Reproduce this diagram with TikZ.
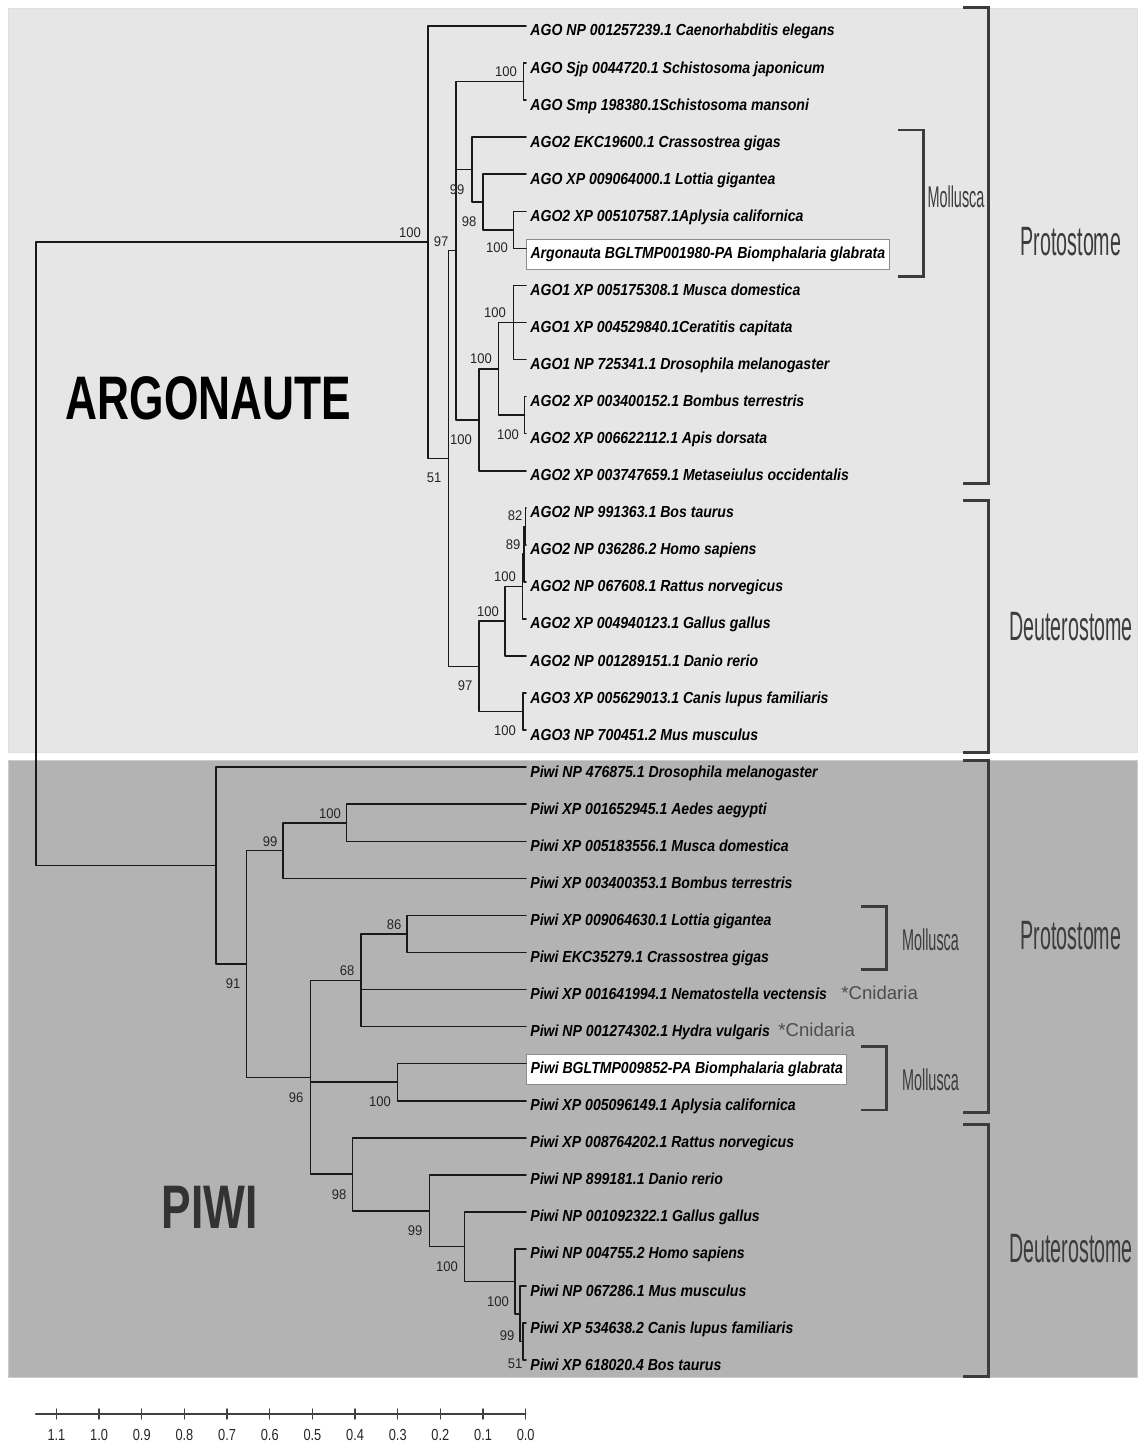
\documentclass[tikz,border=0pt]{standalone}
\usepackage{fontspec}
\setmainfont{Liberation Sans}
\newfontfamily\leaffont[FakeStretch=0.88]{Liberation Sans}
\newfontfamily\bsfont[FakeStretch=0.93]{Liberation Sans}
\newfontfamily\narrowfont[FakeStretch=0.48]{Liberation Sans}
\newfontfamily\cladefont[FakeStretch=0.72]{Liberation Sans}
\newfontfamily\axisfont[FakeStretch=0.8]{Liberation Sans}
\definecolor{lightpanel}{HTML}{E6E6E6}
\definecolor{darkpanel}{HTML}{B3B3B3}
\definecolor{ink}{HTML}{3C3C3C}
\begin{document}
\begin{tikzpicture}[x=0.5pt, y=-0.5pt, line join=round, line cap=round,
	branch/.style={line width=0.8pt, draw=black!90},
	leaf/.style={anchor=base west, yshift=-5pt, inner xsep=2pt, inner ysep=0pt, font=\leaffont\fontsize{8}{9}\selectfont\bfseries\itshape},
	boxleaf/.style={leaf, inner ysep=3.7pt, draw=black!45, fill=white, line width=0.5pt},
	boot/.style={inner sep=0pt, text=black!85, font=\bsfont\fontsize{7}{8}\selectfont},
	brk/.style={line width=1.35pt, draw=ink, line cap=butt, line join=miter},
	grp/.style={inner sep=0pt, text=ink, font=\narrowfont\fontsize{20.5}{22}\selectfont},
	molgrp/.style={grp, font=\narrowfont\fontsize{15}{16}\selectfont},
	cnid/.style={anchor=west, inner sep=0pt, text=black!70, font=\fontsize{9.3}{10}\selectfont},
	clade/.style={inner sep=0pt, font=\cladefont\fontsize{30.75}{32}\selectfont\bfseries},
	axisline/.style={line width=0.7pt, draw=black!75},
	axislabel/.style={inner sep=0pt, text=black!85, font=\axisfont\fontsize{8}{9}\selectfont}]
	\useasboundingbox (0,0) rectangle (1137,1445);
	\def\ry#1{26+37.06*(#1)} % row -> y
	\def\tip{526}
	% panels
	\fill[lightpanel, draw=black!12] (8.3,8.3) rectangle (1137,752.7);
	\fill[darkpanel, draw=black!20] (8.3,760.7) rectangle (1137,1377.7);
	% leaves
	\foreach \i/\s/\t in {
		0/leaf/{AGO NP 001257239.1 Caenorhabditis elegans},
		1/leaf/{AGO Sjp 0044720.1 Schistosoma japonicum},
		2/leaf/{AGO Smp 198380.1Schistosoma mansoni},
		3/leaf/{AGO2 EKC19600.1 Crassostrea gigas},
		4/leaf/{AGO XP 009064000.1 Lottia gigantea},
		5/leaf/{AGO2 XP 005107587.1Aplysia californica},
		6/boxleaf/{Argonauta BGLTMP001980-PA Biomphalaria glabrata},
		7/leaf/{AGO1 XP 005175308.1 Musca domestica},
		8/leaf/{AGO1 XP 004529840.1Ceratitis capitata},
		9/leaf/{AGO1 NP 725341.1 Drosophila melanogaster},
		10/leaf/{AGO2 XP 003400152.1 Bombus terrestris},
		11/leaf/{AGO2 XP 006622112.1 Apis dorsata},
		12/leaf/{AGO2 XP 003747659.1 Metaseiulus occidentalis},
		13/leaf/{AGO2 NP 991363.1 Bos taurus},
		14/leaf/{AGO2 NP 036286.2 Homo sapiens},
		15/leaf/{AGO2 NP 067608.1 Rattus norvegicus},
		16/leaf/{AGO2 XP 004940123.1 Gallus gallus},
		17/leaf/{AGO2 NP 001289151.1 Danio rerio},
		18/leaf/{AGO3 XP 005629013.1 Canis lupus familiaris},
		19/leaf/{AGO3 NP 700451.2 Mus musculus},
		20/leaf/{Piwi NP 476875.1 Drosophila melanogaster},
		21/leaf/{Piwi XP 001652945.1 Aedes aegypti},
		22/leaf/{Piwi XP 005183556.1 Musca domestica},
		23/leaf/{Piwi XP 003400353.1 Bombus terrestris},
		24/leaf/{Piwi XP 009064630.1 Lottia gigantea},
		25/leaf/{Piwi EKC35279.1 Crassostrea gigas},
		26/leaf/{Piwi XP 001641994.1 Nematostella vectensis},
		27/leaf/{Piwi NP 001274302.1 Hydra vulgaris},
		28/boxleaf/{Piwi BGLTMP009852-PA Biomphalaria glabrata},
		29/leaf/{Piwi XP 005096149.1 Aplysia californica},
		30/leaf/{Piwi XP 008764202.1 Rattus norvegicus},
		31/leaf/{Piwi NP 899181.1 Danio rerio},
		32/leaf/{Piwi NP 001092322.1 Gallus gallus},
		33/leaf/{Piwi NP 004755.2 Homo sapiens},
		34/leaf/{Piwi NP 067286.1 Mus musculus},
		35/leaf/{Piwi XP 534638.2 Canis lupus familiaris},
		36/leaf/{Piwi XP 618020.4 Bos taurus}} {
		\coordinate (t\i) at (\tip,{\ry{\i}});
		\node[\s] (l\i) at (t\i) {\t};
	}
	% internal nodes, argonaute
	\coordinate (nSch) at (523.5,{\ry{1.5}});
	\coordinate (nM3) at (513.3,{\ry{5.5}});
	\coordinate (nM2) at (482.7,{\ry{4.75}});
	\coordinate (nM1) at (471.7,{\ry{3.875}});
	\coordinate (nDip) at (513.3,{\ry{8}});
	\coordinate (nHym) at (524.5,{\ry{10.5}});
	\coordinate (nIns) at (498.3,{\ry{9.25}});
	\coordinate (nArt) at (479,{\ry{10.625}});
	\coordinate (nC) at (456,{\ry{6.0625}});
	\coordinate (nJ) at (525.3,{\ry{13.5}});
	\coordinate (nI) at (523.8,{\ry{14.25}});
	\coordinate (nH) at (522.3,{\ry{15.125}});
	\coordinate (nF) at (505,{\ry{16.0625}});
	\coordinate (nG) at (522.7,{\ry{18.5}});
	\coordinate (nD) at (479,{\ry{17.28125}});
	\coordinate (nB) at (448.3,{\ry{11.671875}});
	\coordinate (nA) at (427.7,{\ry{5.8359375}});
	% internal nodes, piwi
	\coordinate (P4) at (346.4,{\ry{21.5}});
	\coordinate (P3) at (283.2,{\ry{22.25}});
	\coordinate (P8) at (407.1,{\ry{24.5}});
	\coordinate (P6) at (360.7,{\ry{25.75}});
	\coordinate (P7) at (397.5,{\ry{28.5}});
	\coordinate (PI) at (522.7,{\ry{35.5}});
	\coordinate (PH) at (520,{\ry{34.75}});
	\coordinate (PG) at (515,{\ry{33.875}});
	\coordinate (PF) at (464.3,{\ry{32.9375}});
	\coordinate (PE) at (429.3,{\ry{31.96875}});
	\coordinate (PD) at (352.3,{\ry{30.984375}});
	\coordinate (P5) at (310.5,{\ry{28.3671875}});
	\coordinate (P2) at (246.4,{\ry{25.30859}});
	\coordinate (P1) at (216,{\ry{22.654}});
	\coordinate (root) at (36,{\ry{14.245}});
	% branches
	\foreach \p/\c in {root/nA, root/P1,
		nA/t0, nA/nB, nB/nC, nB/nD, nC/nSch, nC/nM1, nC/nArt,
		nSch/t1, nSch/t2, nM1/t3, nM1/nM2, nM2/t4, nM2/nM3, nM3/t5, nM3/t6,
		nArt/nIns, nArt/t12, nIns/nDip, nIns/nHym, nDip/t7, nDip/t8, nDip/t9,
		nHym/t10, nHym/t11, nD/nF, nD/nG, nF/nH, nF/t17, nH/nI, nH/t16,
		nI/nJ, nI/t15, nJ/t13, nJ/t14, nG/t18, nG/t19,
		P1/t20, P1/P2, P2/P3, P2/P5, P3/P4, P3/t23, P4/t21, P4/t22,
		P5/P6, P5/P7, P5/PD, P6/P8, P6/t26, P6/t27, P8/t24, P8/t25,
		P7/t28, P7/t29, PD/t30, PD/PE, PE/t31, PE/PF, PF/t32, PF/PG,
		PG/t33, PG/PH, PH/t34, PH/PI, PI/t35, PI/t36}
		\draw[branch] (\p) |- (\c);
	% bootstrap values
	\foreach \x/\y/\v [count=\k] in {410/233/100, 441/242/97, 434/478/51, 506/72/100,
		457/190/99, 469/222/98, 497/248/100, 495/313/100, 481/359/100, 461/440/100,
		508/435/100, 515/516/82, 513/545/89, 505/577/100, 488/612/100, 465/686/97,
		505/731/100, 330/814/100, 270/842/99, 233/984/91, 394/925/86, 347/971/68,
		296/1098/96, 380/1102/100, 339/1195/98, 415/1231/99, 447/1267/100,
		498/1302/100, 507/1336/99, 515/1364/51}
		\node[boot] (bs\k) at (\x,\y) {\v};
	% group brackets
	\draw[brk] (963.3,7.3) -| (988.3,483.8) -- (963.3,483.8);
	\draw[brk] (963.3,500.7) -| (988.3,752.3) -- (963.3,752.3);
	\draw[brk] (898.3,130) -| (923.3,276.3) -- (898.3,276.3);
	\draw[brk] (963.3,760.2) -| (988.3,1112.4) -- (963.3,1112.4);
	\draw[brk] (963.3,1124.7) -| (988.3,1376.5) -- (963.3,1376.5);
	\draw[brk] (861.3,906.3) -| (886.7,969.6) -- (861.3,969.6);
	\draw[brk] (861.3,1046.7) -| (886.7,1110) -- (861.3,1110);
	\node[molgrp] (molA) at (956,197) {Mollusca};
	\node[molgrp] (molP1) at (930.5,940) {Mollusca};
	\node[molgrp] (molP2) at (930.5,1080) {Mollusca};
	\node[grp] (protA) at (1071,242) {Protostome};
	\node[grp] (deutA) at (1071,627) {Deuterostome};
	\node[grp] (protP) at (1071,936) {Protostome};
	\node[grp] (deutP) at (1071,1249) {Deuterostome};
	\node[cnid] (cnid1) at (841,993) {*Cnidaria};
	\node[cnid] (cnid2) at (778,1030) {*Cnidaria};
	% clade names
	\node[clade] (ago) at (208.5,398) {ARGONAUTE};
	\node[clade, text=black!80] (piwi) at (209.5,1207) {PIWI};
	% scale bar
	\draw[axisline] (35.7,1414) -- (525.7,1414);
	\foreach \k/\v in {0/0.0, 1/0.1, 2/0.2, 3/0.3, 4/0.4, 5/0.5, 6/0.6, 7/0.7, 8/0.8, 9/0.9, 10/1.0, 11/1.1} {
		\draw[axisline] ({525.7-42.66*\k},1409) -- ({525.7-42.66*\k},1419);
		\node[axislabel] (ax\k) at ({525.7-42.66*\k},1435) {\v};
	}
\end{tikzpicture}
\end{document}
